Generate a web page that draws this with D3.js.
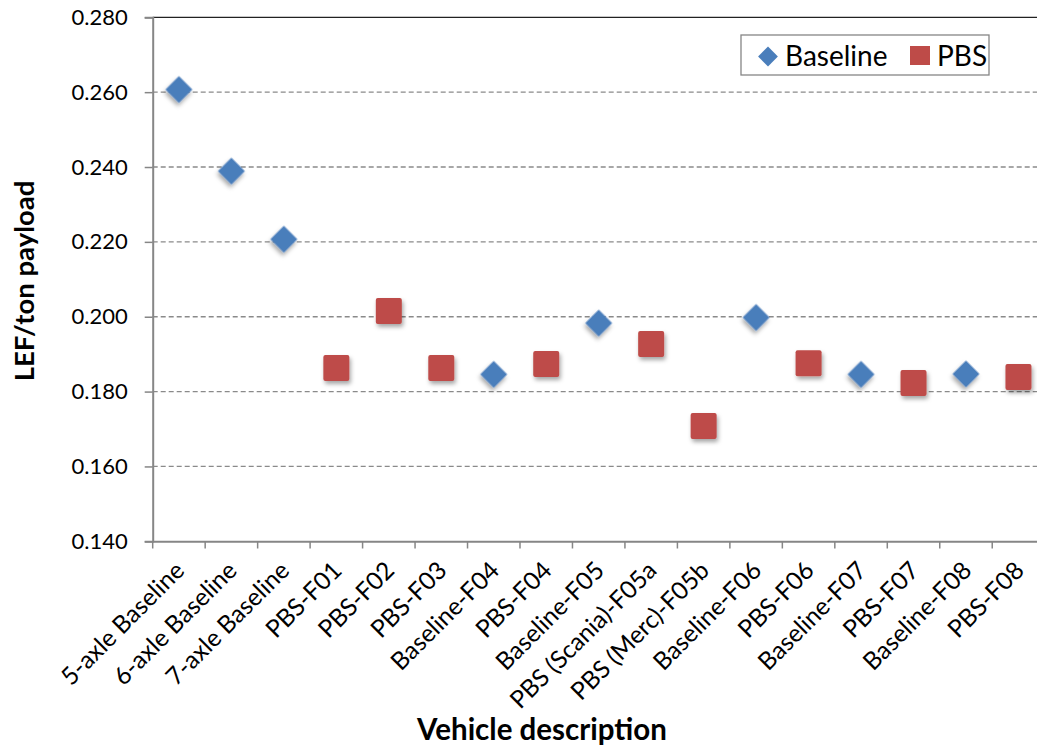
<!DOCTYPE html>
<html><head><meta charset="utf-8">
<script src="https://cdn.jsdelivr.net/npm/d3@7/dist/d3.min.js"></script>
<style>body{margin:0;background:#fff;} svg{display:block;font-family:Lato,"Open Sans",sans-serif;}</style>
</head><body>
<svg id="chart" width="1037" height="749"></svg>
<script>
const categories = ["5-axle Baseline","6-axle Baseline","7-axle Baseline","PBS-F01","PBS-F02","PBS-F03","Baseline-F04","PBS-F04","Baseline-F05","PBS (Scania)-F05a","PBS (Merc)-F05b","Baseline-F06","PBS-F06","Baseline-F07","PBS-F07","Baseline-F08","PBS-F08"];
const baselineCats = ["5-axle Baseline","6-axle Baseline","7-axle Baseline","Baseline-F04","Baseline-F05","Baseline-F06","Baseline-F07","Baseline-F08"];
const baselineValues = [0.2607,0.2389,0.2207,0.1846,0.1983,0.1998,0.1846,0.1847];
const pbsCats = ["PBS-F01","PBS-F02","PBS-F03","PBS-F04","PBS (Scania)-F05a","PBS (Merc)-F05b","PBS-F06","PBS-F07","PBS-F08"];
const pbsValues = [0.1863,0.2015,0.1863,0.1874,0.1927,0.1708,0.1876,0.1823,0.1839];
const yTicks = [0.14,0.16,0.18,0.20,0.22,0.24,0.26,0.28];
const seriesNames = ["Baseline","PBS"];

const svg = d3.select("#chart");
const x = d3.scaleBand().domain(categories).range([152.7, 1044.7]);
const y = d3.scaleLinear().domain([0.14, 0.28]).range([541.3, 17.3]);

const defs = svg.append("defs");
const f = defs.append("filter").attr("id","shadow").attr("x","-50%").attr("y","-50%").attr("width","200%").attr("height","200%");
f.append("feDropShadow").attr("dx",1.5).attr("dy",3).attr("stdDeviation",2).attr("flood-color","#000").attr("flood-opacity",0.35);

// gridlines
svg.append("g").selectAll("line").data(yTicks.filter(d => d > 0.14 && d < 0.28)).join("line")
  .attr("x1",152.7).attr("x2",1044.7).attr("y1",d=>y(d)).attr("y2",d=>y(d))
  .attr("stroke","#8a8a8a").attr("stroke-width",1.3).attr("stroke-dasharray","5,3");
svg.append("line").attr("x1",152.7).attr("x2",1044.7).attr("y1",y(0.28)).attr("y2",y(0.28))
  .attr("stroke","#222").attr("stroke-width",1.3);

// y axis
const yAxis = svg.append("g").attr("transform","translate(152.7,0)")
  .call(d3.axisLeft(y).tickValues(yTicks).tickFormat(d3.format(".3f")).tickSize(8).tickPadding(17));
yAxis.select(".domain").attr("stroke","#868686").attr("stroke-width",2);
yAxis.selectAll(".tick line").attr("stroke","#868686").attr("stroke-width",1.5);
yAxis.selectAll(".tick text").attr("font-size",22).attr("fill","#000").attr("font-family","Lato");

// x axis
const xAxis = svg.append("g").attr("transform","translate(0,541.3)")
  .call(d3.axisBottom(x).tickSize(0).tickFormat(""));
xAxis.select(".domain").attr("stroke","#868686").attr("stroke-width",2);
const bounds = [...categories.map(c => x(c)), x.range()[1]];
svg.append("g").selectAll("line").data(bounds).join("line")
  .attr("x1",d=>d).attr("x2",d=>d).attr("y1",541.3).attr("y2",548.5)
  .attr("stroke","#868686").attr("stroke-width",1.5);
svg.append("g").selectAll("text").data(categories).join("text")
  .attr("transform", d => `translate(${x(d)+x.bandwidth()/2+7},${572}) rotate(-45)`)
  .attr("text-anchor","end").attr("font-size",24.5).attr("fill","#000")
  .text(d => d);

// titles
svg.append("text").attr("transform","translate(34,281) rotate(-90)").attr("text-anchor","middle")
  .attr("font-size",27.5).attr("font-weight","bold").attr("fill","#000").text("LEF/ton payload");
svg.append("text").attr("x",542).attr("y",740).attr("text-anchor","middle")
  .attr("font-size",29.5).attr("font-weight","bold").attr("fill","#000").text("Vehicle description");

// markers
const dsz = 19;
svg.append("g").selectAll("rect").data(baselineCats.map((c,i)=>({c,v:baselineValues[i]}))).join("rect")
  .attr("x",-dsz/2).attr("y",-dsz/2).attr("width",dsz).attr("height",dsz)
  .attr("transform",d=>`translate(${x(d.c)+x.bandwidth()/2},${y(d.v)}) rotate(45)`)
  .attr("fill","#4a7ebb").attr("filter","url(#shadow)");
const ssz = 26;
svg.append("g").selectAll("rect").data(pbsCats.map((c,i)=>({c,v:pbsValues[i]}))).join("rect")
  .attr("x",d=>x(d.c)+x.bandwidth()/2-ssz/2).attr("y",d=>y(d.v)-ssz/2).attr("width",ssz).attr("height",ssz)
  .attr("rx",2).attr("fill","#be4b48").attr("filter","url(#shadow)");

// legend
const lg = svg.append("g");
lg.append("rect").attr("x",741).attr("y",35).attr("width",248).attr("height",40)
  .attr("fill","#fff").attr("stroke","#868686").attr("stroke-width",1.3);
lg.append("rect").attr("x",-7).attr("y",-7).attr("width",14).attr("height",14)
  .attr("transform","translate(768,56.5) rotate(45)").attr("fill","#4a7ebb");
lg.append("text").attr("x",785).attr("y",66).attr("font-size",28).attr("fill","#000").text(seriesNames[0]);
lg.append("rect").attr("x",910).attr("y",46).attr("width",20).attr("height",19).attr("fill","#be4b48");
lg.append("text").attr("x",937).attr("y",66).attr("font-size",28).attr("fill","#000").text(seriesNames[1]);
</script>
</body></html>
